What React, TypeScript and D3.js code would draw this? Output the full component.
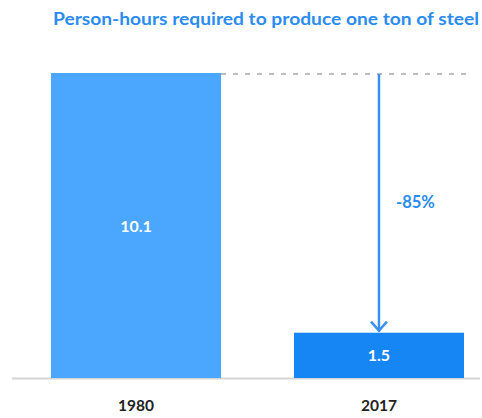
import React from "react";
import * as d3 from "d3";

const categories = ["1980", "2017"];
const values = [10.1, 1.5];
const valueLabels = ["10.1", "1.5"];
const changeLabel = "-85%";
const title = "Person-hours required to produce one ton of steel";
const barColors = ["#4ba6fd", "#1786f5"];

const W = 482;
const H = 418;
const baseY = 378;
const topY = 73;

export default function App() {
  const x = d3.scaleBand<string>().domain(categories).range([51, 464]).paddingInner(0.3).paddingOuter(0);
  const y = d3.scaleLinear().domain([0, values[0]]).range([baseY, topY]);
  const font = "Lato, 'Open Sans', sans-serif";
  const x2 = (x(categories[1]) as number) + x.bandwidth() / 2;
  const arrowTop = y(values[0]);
  const arrowBot = y(values[1]) - 1;
  return (
    <svg width={W} height={H} style={{ position: "absolute", left: 0, top: 0 }} fontFamily={font}>
      <rect width={W} height={H} fill="#fff" />
      <text x={53} y={25} fill="#2b8cf0" fontSize={16.5} fontWeight={700} textLength={426} lengthAdjust="spacingAndGlyphs">
        {title}
      </text>
      <line x1={12} x2={480} y1={baseY + 0.5} y2={baseY + 0.5} stroke="#d4d4d4" strokeWidth={2} />
      <line x1={(x(categories[0]) as number) + x.bandwidth()} x2={466} y1={arrowTop + 1} y2={arrowTop + 1} stroke="#bdbdbd" strokeWidth={2} strokeDasharray="5,7" />
      {categories.map((c, i) => (
        <g key={c}>
          <rect x={x(c)} y={y(values[i])} width={x.bandwidth()} height={baseY - y(values[i])} fill={barColors[i]} />
          <text x={(x(c) as number) + x.bandwidth() / 2} y={(y(values[i]) + baseY) / 2 + 6} textAnchor="middle" fill="#fff" fontSize={16} fontWeight={700}>
            {valueLabels[i]}
          </text>
          <text x={(x(c) as number) + x.bandwidth() / 2} y={411} textAnchor="middle" fill="#222" fontSize={15.5} fontWeight={700}>
            {c}
          </text>
        </g>
      ))}
      <line x1={x2} x2={x2} y1={arrowTop + 1} y2={arrowBot} stroke="#3a90f0" strokeWidth={2.5} />
      <polyline points={`${x2 - 8},${arrowBot - 10} ${x2},${arrowBot - 1} ${x2 + 8},${arrowBot - 10}`} fill="none" stroke="#3a90f0" strokeWidth={2.5} />
      <text x={396} y={208} fill="#2b8cf0" fontSize={16.5} fontWeight={700}>
        {changeLabel}
      </text>
    </svg>
  );
}
